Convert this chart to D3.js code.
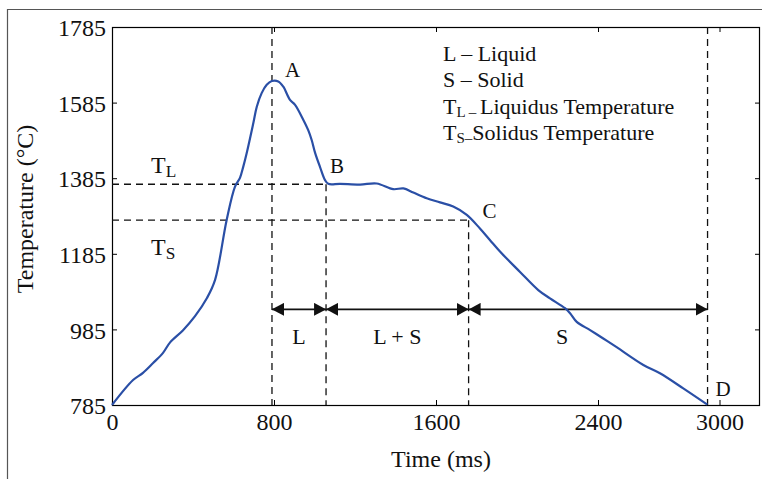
<!DOCTYPE html>
<html>
<head>
<meta charset="utf-8">
<script src="https://cdn.jsdelivr.net/npm/d3@7"></script>
<style>
  html, body { margin: 0; padding: 0; background: #fff; }
  svg { display: block; font-family: "Liberation Serif", "Times New Roman", serif; }
</style>
</head>
<body>
<svg id="chart" width="762" height="479"></svg>
<script>
// Cooling / heating curve samples (time in ms, temperature in °C)
const timeMs = [0, 104, 153, 203, 252, 286, 351, 410, 469, 509, 566, 607, 632, 648, 665, 698, 715, 739, 764, 789, 821, 846, 879, 904, 945, 969, 986, 1003, 1027, 1052, 1068, 1126, 1225, 1307, 1389, 1439, 1488, 1554, 1620, 1685, 1752, 1817, 1867, 1916, 2015, 2105, 2163, 2237, 2262, 2295, 2361, 2426, 2492, 2624, 2706, 2821, 2940];
const tempC  = [785, 851, 870, 896, 923, 950, 983, 1020, 1068, 1116, 1274, 1362, 1386, 1415, 1451, 1531, 1574, 1610, 1632, 1642, 1641, 1627, 1592, 1579, 1539, 1512, 1486, 1452, 1415, 1380, 1370, 1370, 1368, 1371, 1356, 1358, 1347, 1332, 1321, 1310, 1288, 1252, 1221, 1191, 1137, 1089, 1067, 1041, 1028, 1005, 983, 961, 938, 891, 869, 829, 786];

const xTicks = [0, 800, 1600, 2400, 3000];
const yTicks = [785, 985, 1185, 1385, 1585, 1785];

// Key points on the curve and the phase intervals between them
const pointNames = ["A", "B", "C", "D"];
const pointTimes = [790, 1057, 1761, 2941];
const liquidusTemp = 1369;
const solidusTemp = 1274;
const phaseNames = ["L", "L + S", "S"];
const phaseArrowTemp = 1038;

const legendLines = [
  { main: "L", sub: "", rest: " \u2013 Liquid" },
  { main: "S", sub: "", rest: " \u2013 Solid" },
  { main: "T", sub: "L", rest: "Liquidus Temperature" },
  { main: "T", sub: "S", rest: "Solidus Temperature" }
];

const svg = d3.select("#chart");
const plot = { left: 112, top: 27, right: 760, bottom: 405 };

const x = d3.scaleLinear().domain([0, 3200]).range([plot.left, plot.right]);
const y = d3.scaleLinear().domain([785, 1785]).range([plot.bottom, plot.top]);

// Outer figure frame (top and left edges)
svg.append("path")
  .attr("d", `M7.5,479 V9.5 H762`)
  .attr("fill", "none").attr("stroke", "#555").attr("stroke-width", 1.2);

// Axes box
const tickFont = 24;
const gx = svg.append("g").attr("transform", `translate(0,${plot.bottom})`)
  .call(d3.axisBottom(x).tickValues(xTicks).tickSize(-5).tickPadding(8).tickFormat(d3.format("d")));
const gxTop = svg.append("g").attr("transform", `translate(0,${plot.top})`)
  .call(d3.axisTop(x).tickValues(xTicks).tickSize(-5).tickFormat(""));
const gy = svg.append("g").attr("transform", `translate(${plot.left},0)`)
  .call(d3.axisLeft(y).tickValues(yTicks).tickSize(-5).tickPadding(6).tickFormat(d3.format("d")));
const gyRight = svg.append("g").attr("transform", `translate(${plot.right},0)`)
  .call(d3.axisRight(y).tickValues(yTicks).tickSize(-5).tickFormat(""));

[gx, gxTop, gy, gyRight].forEach(g => {
  g.select(".domain").remove();
  g.selectAll(".tick line").attr("stroke", "#000").attr("stroke-width", 1);
  g.selectAll(".tick text").attr("font-family", "Liberation Serif").attr("font-size", tickFont).attr("fill", "#111");
});
gx.selectAll(".tick text").attr("dy", "0.71em");
gy.selectAll(".tick text").attr("dy", "0.36em");

svg.append("rect")
  .attr("x", plot.left + 0.5).attr("y", plot.top + 0.5)
  .attr("width", plot.right - plot.left - 1).attr("height", plot.bottom - plot.top)
  .attr("fill", "none").attr("stroke", "#000").attr("stroke-width", 1.2);

// Dashed reference lines
const dash = "7,5";
const refs = svg.append("g").attr("stroke", "#111").attr("stroke-width", 1.3).attr("stroke-dasharray", dash).attr("fill", "none");
refs.append("line").attr("x1", x(pointTimes[0])).attr("x2", x(pointTimes[0])).attr("y1", y(1785)).attr("y2", y(785));
refs.append("line").attr("x1", x(pointTimes[1])).attr("x2", x(pointTimes[1])).attr("y1", y(liquidusTemp)).attr("y2", y(785));
refs.append("line").attr("x1", x(pointTimes[2])).attr("x2", x(pointTimes[2])).attr("y1", y(solidusTemp)).attr("y2", y(785));
refs.append("line").attr("x1", x(pointTimes[3])).attr("x2", x(pointTimes[3])).attr("y1", y(1785)).attr("y2", y(785));
refs.append("line").attr("x1", x(0)).attr("x2", x(pointTimes[1])).attr("y1", y(liquidusTemp)).attr("y2", y(liquidusTemp));
refs.append("line").attr("x1", x(0)).attr("x2", x(pointTimes[2])).attr("y1", y(solidusTemp)).attr("y2", y(solidusTemp));

// Phase interval arrows
const defs = svg.append("defs");
defs.append("marker").attr("id", "arrowEnd")
  .attr("viewBox", "0 0 12 13").attr("refX", 12).attr("refY", 6.5)
  .attr("markerWidth", 12).attr("markerHeight", 13).attr("markerUnits", "userSpaceOnUse")
  .attr("orient", "auto")
  .append("path").attr("d", "M0,0 L12,6.5 L0,13 Z").attr("fill", "#111");
defs.append("marker").attr("id", "arrowStart")
  .attr("viewBox", "0 0 12 13").attr("refX", 0).attr("refY", 6.5)
  .attr("markerWidth", 12).attr("markerHeight", 13).attr("markerUnits", "userSpaceOnUse")
  .attr("orient", "auto")
  .append("path").attr("d", "M12,0 L0,6.5 L12,13 Z").attr("fill", "#111");

const ay = y(phaseArrowTemp);
phaseNames.forEach((name, i) => {
  const x0 = x(pointTimes[i]), x1 = x(pointTimes[i + 1]);
  svg.append("line")
    .attr("x1", x0).attr("x2", x1).attr("y1", ay).attr("y2", ay)
    .attr("stroke", "#111").attr("stroke-width", 1.6)
    .attr("marker-start", "url(#arrowStart)").attr("marker-end", "url(#arrowEnd)");
  svg.append("text")
    .attr("x", (x0 + x1) / 2 + (i === 2 ? -26 : 0)).attr("y", ay + 35)
    .attr("text-anchor", "middle").attr("font-size", 22).attr("fill", "#111")
    .text(name);
});

// Temperature curve
const curve = d3.line()
  .x((d, i) => x(timeMs[i]))
  .y((d, i) => y(tempC[i]))
  .curve(d3.curveCatmullRom.alpha(0.5));
svg.append("path")
  .attr("d", curve(timeMs))
  .attr("fill", "none").attr("stroke", "#2a4fa6").attr("stroke-width", 2.2)
  .attr("stroke-linejoin", "round");

// Point labels
const labelOffsets = [[13, -4], [4, -11], [14, -2], [8, -9]];
const labelTemps = [1642, liquidusTemp, solidusTemp, 785];
pointNames.forEach((n, i) => {
  svg.append("text")
    .attr("x", x(pointTimes[i]) + labelOffsets[i][0])
    .attr("y", y(labelTemps[i]) + labelOffsets[i][1])
    .attr("font-size", 21).attr("fill", "#111")
    .text(n);
});

// T_L and T_S labels
function subLabel(px, py, main, sub, size) {
  const t = svg.append("text").attr("x", px).attr("y", py).attr("font-size", size).attr("fill", "#111");
  t.append("tspan").text(main);
  t.append("tspan").attr("font-size", size * 0.72).attr("dy", 4).text(sub);
  return t;
}
subLabel(151, y(liquidusTemp) - 11, "T", "L", 24);
subLabel(151, y(solidusTemp) + 35, "T", "S", 24);

// Legend
legendLines.forEach((l, i) => {
  const ly = 61 + i * 26.4;
  const t = svg.append("text").attr("x", 443).attr("y", ly).attr("font-size", 22).attr("fill", "#111");
  t.append("tspan").text(l.main);
  if (l.sub) {
    t.append("tspan").attr("font-size", 15).attr("dy", 3).text(l.sub);
    t.append("tspan").attr("font-size", 15).attr("dy", 0).text(i === 2 ? " \u2013 " : "\u2013");
    t.append("tspan").attr("dy", -3).text(l.rest);
  } else {
    t.append("tspan").text(l.rest);
  }
});

// Axis titles
svg.append("text")
  .attr("x", 441).attr("y", 467)
  .attr("text-anchor", "middle").attr("font-size", 24).attr("fill", "#111")
  .text("Time (ms)");
svg.append("text")
  .attr("transform", `translate(33,${209}) rotate(-90)`)
  .attr("text-anchor", "middle").attr("font-size", 24).attr("fill", "#111")
  .text("Temperature (\u00B0C)");
</script>
</body>
</html>
